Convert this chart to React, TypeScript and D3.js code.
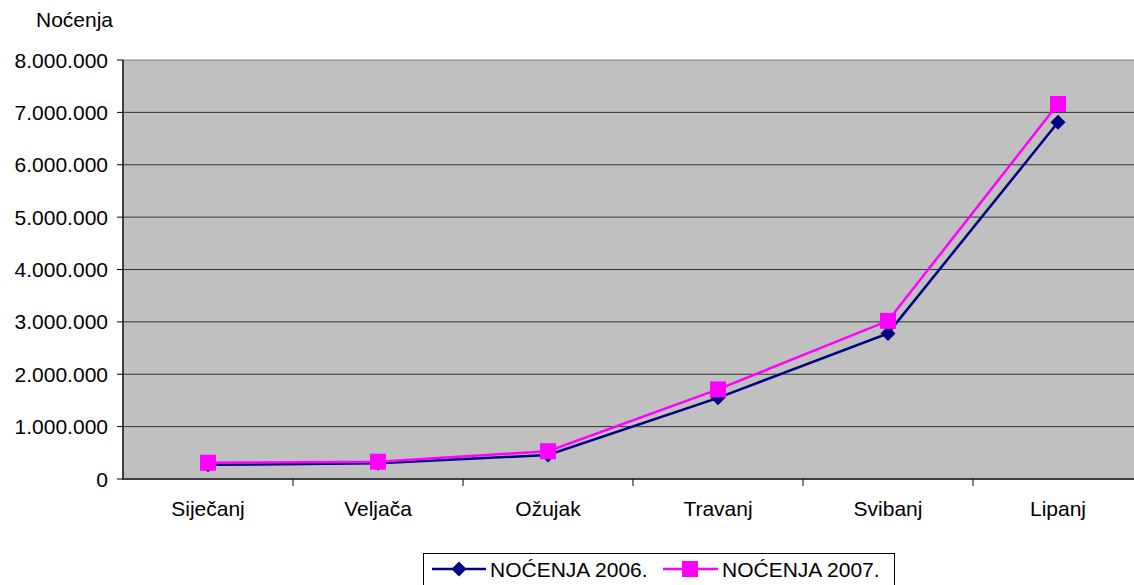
import React from "react";
import * as d3 from "d3";

const categories = ["Siječanj", "Veljača", "Ožujak", "Travanj", "Svibanj", "Lipanj"];
const values2006 = [270000, 300000, 460000, 1550000, 2780000, 6810000];
const values2007 = [310000, 330000, 530000, 1710000, 3020000, 7160000];
const yTicks = [0, 1000000, 2000000, 3000000, 4000000, 5000000, 6000000, 7000000, 8000000];
const seriesNames = ["NOĆENJA 2006.", "NOĆENJA 2007."];
const yAxisTitle = "Noćenja";

const W = 1134;
const H = 585;
const left = 123;
const right = 1143;
const top = 60;
const bottom = 479;
const FONT = "'Liberation Sans', Arial, sans-serif";
const FS = 21;

const fmt = (v: number) => {
  if (v === 0) return "0";
  return d3.format(",")(v).replace(/,/g, ".");
};

export default function App() {
  const x = d3.scaleBand<string>().domain(categories).range([left, right]);
  const y = d3.scaleLinear().domain([0, 8000000]).range([bottom, top]);
  const cx = (c: string) => (x(c) as number) + x.bandwidth() / 2;
  const line = d3
    .line<number>()
    .x((_, i) => cx(categories[i]))
    .y((d) => y(d));

  const diamond = (px: number, py: number, r: number) =>
    `M${px},${py - r}L${px + r},${py}L${px},${py + r}L${px - r},${py}Z`;

  return (
    <svg
      width={W}
      height={H}
      style={{ position: "absolute", left: 0, top: 0, display: "block", background: "#fff" }}
      fontFamily={FONT}
    >
      <rect x={left} y={top} width={right - left} height={bottom - top} fill="#C0C0C0" />
      {yTicks.map((t) => (
        <line
          key={"g" + t}
          x1={left}
          x2={right}
          y1={y(t)}
          y2={y(t)}
          stroke={t === 8000000 ? "#808080" : "#333"}
          strokeWidth={1}
        />
      ))}
      {/* axes */}
      <line x1={left} x2={left} y1={top} y2={bottom + 1} stroke="#404040" strokeWidth={2} />
      <line x1={left} x2={right} y1={bottom} y2={bottom} stroke="#404040" strokeWidth={2} />
      {yTicks.map((t) => (
        <g key={"t" + t}>
          <line x1={left - 6} x2={left} y1={y(t)} y2={y(t)} stroke="#000" />
          <text x={108} y={y(t) + 7.5} textAnchor="end" fontSize={FS} fill="#000">
            {fmt(t)}
          </text>
        </g>
      ))}
      {categories.map((c, i) => (
        <g key={c}>
          {i > 0 && (
            <line
              x1={x(c) as number}
              x2={x(c) as number}
              y1={bottom}
              y2={bottom + 7}
              stroke="#000"
            />
          )}
          <text x={cx(c)} y={516} textAnchor="middle" fontSize={FS} fill="#000">
            {c}
          </text>
        </g>
      ))}
      <text x={36} y={27} fontSize={FS} fill="#000">
        {yAxisTitle}
      </text>

      {/* series 2006 */}
      <path d={line(values2006) as string} fill="none" stroke="#000080" strokeWidth={2.5} />
      {values2006.map((v, i) => (
        <path key={"d" + i} d={diamond(cx(categories[i]), y(v), 7.5)} fill="#000080" />
      ))}
      {/* series 2007 */}
      <path d={line(values2007) as string} fill="none" stroke="#FF00FF" strokeWidth={2.5} />
      {values2007.map((v, i) => (
        <rect
          key={"s" + i}
          x={cx(categories[i]) - 8}
          y={y(v) - 8}
          width={16}
          height={16}
          fill="#FF00FF"
        />
      ))}

      {/* legend */}
      <rect x={423.5} y={553.5} width={471} height={40} fill="#fff" stroke="#000" strokeWidth={1} />
      <line x1={432} x2={486} y1={569} y2={569} stroke="#000080" strokeWidth={2.5} />
      <path d={diamond(459, 569, 7.5)} fill="#000080" />
      <text x={490} y={577} fontSize={FS} fill="#000">
        {seriesNames[0]}
      </text>
      <line x1={663} x2={718} y1={569} y2={569} stroke="#FF00FF" strokeWidth={2.5} />
      <rect x={682} y={561} width={16} height={16} fill="#FF00FF" />
      <text x={722} y={577} fontSize={FS} fill="#000">
        {seriesNames[1]}
      </text>
    </svg>
  );
}
